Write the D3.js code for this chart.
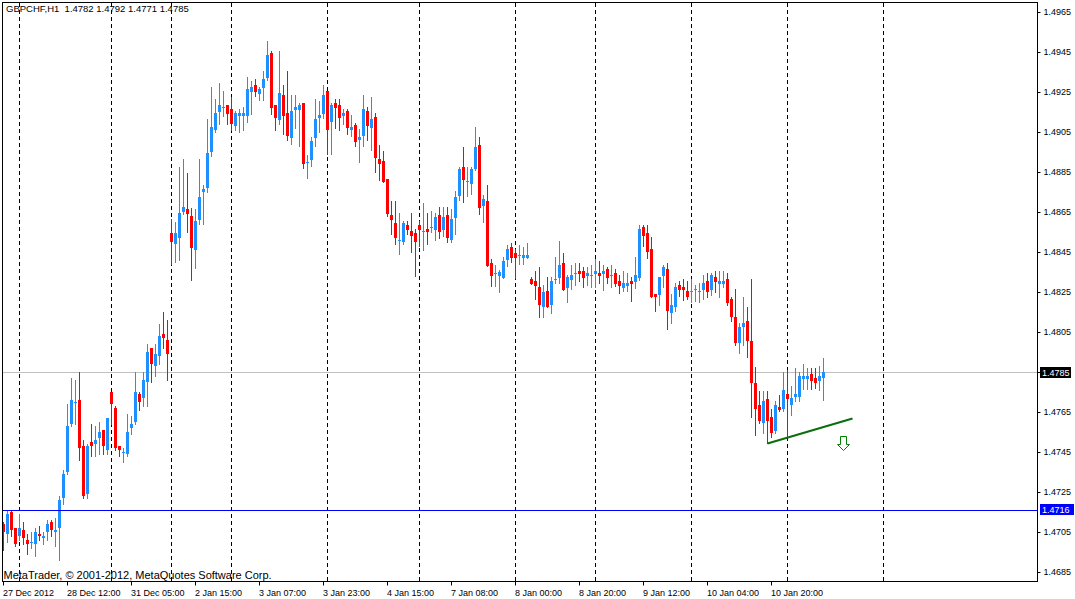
<!DOCTYPE html>
<html>
<head>
<meta charset="utf-8">
<script src="https://cdn.jsdelivr.net/npm/d3@7"></script>
<style>
  html, body { margin: 0; padding: 0; background: #fff; overflow: hidden; }
  svg { display: block; }
</style>
</head>
<body>
<svg id="chart" width="1075" height="599" viewBox="0 0 1075 599"></svg>
<script>
'use strict';

/* global d3 */

var header = 'GBPCHF,H1  1.4782 1.4792 1.4771 1.4785';
var copyright = 'MetaTrader, \u00a9 2001-2012, MetaQuotes Software Corp.';

// H1 bars, left to right
var open = [
  1.4709, 1.4704, 1.4715, 1.4707, 1.4703, 1.4706, 1.4701, 1.4700, 1.4699, 1.4704,
  1.4702, 1.4705, 1.4710, 1.4705, 1.4707, 1.4722, 1.4735, 1.4759, 1.4770, 1.4771,
  1.4748, 1.4724, 1.4750, 1.4749, 1.4752, 1.4756, 1.4746, 1.4775, 1.4767, 1.4748,
  1.4745, 1.4744, 1.4757, 1.4760, 1.4774, 1.4772, 1.4780, 1.4797, 1.4788, 1.4793,
  1.4804, 1.4801, 1.48545, 1.4849, 1.4852, 1.4865, 1.48665, 1.4863, 1.4846, 1.4861,
  1.4875, 1.4877, 1.4895, 1.4906, 1.4915, 1.49175, 1.49185, 1.49165, 1.4908, 1.4913,
  1.4913, 1.4913, 1.4925, 1.49285, 1.4924, 1.4927, 1.4932, 1.49445, 1.49185, 1.4911,
  1.49235, 1.49145, 1.4902, 1.4916, 1.4916, 1.49195, 1.4890, 1.4891, 1.4902, 1.4912,
  1.4914, 1.49255, 1.4910, 1.49195, 1.49185, 1.4913, 1.49155, 1.4906, 1.49085, 1.4901,
  1.4903, 1.49155, 1.4907, 1.49125, 1.48915, 1.48905, 1.48815, 1.48635, 1.48595, 1.4851,
  1.4850, 1.48585, 1.48555, 1.48545, 1.48585, 1.48555, 1.48565, 1.48575, 1.4856, 1.48635,
  1.4856, 1.48635, 1.4851, 1.4862, 1.4873, 1.48875, 1.48805, 1.4879, 1.48865, 1.48985,
  1.4868, 1.48705, 1.48395, 1.48345, 1.4833, 1.4832, 1.4841, 1.48475, 1.48445, 1.48435,
  1.4842, 1.4842, 1.48315, 1.48305, 1.48275, 1.48175, 1.48255, 1.48185, 1.48315, 1.4832,
  1.48395, 1.4827, 1.4831, 1.48345, 1.48355, 1.48355, 1.4833, 1.48335, 1.4834, 1.48345,
  1.4834, 1.48365, 1.48335, 1.48345, 1.48305, 1.4827, 1.4828, 1.48305, 1.4830, 1.4832,
  1.48575, 1.48545, 1.48465, 1.4824, 1.48235, 1.4833, 1.48365, 1.48145, 1.48175, 1.48285,
  1.48275, 1.48255, 1.48255, 1.48265, 1.48255, 1.4826, 1.48305, 1.4826, 1.48325, 1.4829,
  1.4829, 1.48315, 1.48215, 1.48125, 1.47995, 1.48075, 1.48105, 1.48005, 1.47795, 1.47685,
  1.47595, 1.47715, 1.47625, 1.47555, 1.47675, 1.47665, 1.4774, 1.47685, 1.47725, 1.47725,
  1.47815, 1.47815, 1.4784, 1.4782, 1.47805, 1.4782
];
var high = [
  1.4710, 1.4716, 1.4716, 1.4707, 1.4714, 1.4710, 1.4704, 1.4705, 1.4707, 1.4708,
  1.4705, 1.4711, 1.4711, 1.4712, 1.4723, 1.4736, 1.4769, 1.4782, 1.4781, 1.4785,
  1.4751, 1.4749, 1.4759, 1.4758, 1.4760, 1.4756, 1.4762, 1.4775, 1.4768, 1.4748,
  1.4747, 1.4764, 1.4763, 1.4785, 1.4775, 1.4785, 1.4799, 1.4797, 1.4799, 1.4809,
  1.4815, 1.4811, 1.48615, 1.4860, 1.48875, 1.48915, 1.48845, 1.4867, 1.48665, 1.48915,
  1.48785, 1.49115, 1.49275, 1.49215, 1.49295, 1.49255, 1.49185, 1.49225, 1.49155, 1.49165,
  1.49175, 1.49325, 1.49305, 1.49315, 1.49275, 1.49355, 1.49505, 1.49455, 1.49185, 1.49455,
  1.49285, 1.49355, 1.49235, 1.49235, 1.49195, 1.49195, 1.48935, 1.49025, 1.49215, 1.49205,
  1.49285, 1.49255, 1.49195, 1.49215, 1.49215, 1.49165, 1.49165, 1.49135, 1.49095, 1.49065,
  1.49235, 1.49175, 1.49225, 1.49145, 1.48985, 1.48955, 1.48815, 1.48705, 1.48705, 1.48645,
  1.48605, 1.48605, 1.48645, 1.48565, 1.48605, 1.48695, 1.48645, 1.48655, 1.48645, 1.48675,
  1.48675, 1.48675, 1.48665, 1.48755, 1.48875, 1.48975, 1.48875, 1.48875, 1.49075, 1.49025,
  1.48735, 1.48785, 1.48415, 1.48385, 1.4836, 1.48425, 1.48485, 1.48495, 1.48465, 1.48485,
  1.48475, 1.48495, 1.48325, 1.48355, 1.48375, 1.48285, 1.48325, 1.48325, 1.48425, 1.48505,
  1.48445, 1.48335, 1.48385, 1.48395, 1.48395, 1.48375, 1.48375, 1.48385, 1.48415, 1.48405,
  1.48385, 1.48375, 1.48385, 1.48365, 1.48335, 1.48355, 1.48345, 1.48325, 1.48425, 1.48585,
  1.48585, 1.48585, 1.48525, 1.4824, 1.48325, 1.48385, 1.48395, 1.4824, 1.48295, 1.48305,
  1.48315, 1.48305, 1.48315, 1.48285, 1.48295, 1.48335, 1.48345, 1.48345, 1.48355, 1.48355,
  1.48355, 1.48345, 1.48225, 1.48265, 1.48095, 1.48225, 1.48175, 1.48315, 1.47875, 1.47755,
  1.47755, 1.47755, 1.47665, 1.47705, 1.47735, 1.4785, 1.4786, 1.4778, 1.4787, 1.4785,
  1.4789, 1.4787, 1.4787, 1.4787, 1.4788, 1.4792
];
var low = [
  1.4696, 1.4700, 1.4703, 1.4698, 1.4701, 1.4699, 1.4694, 1.4697, 1.4693, 1.4701,
  1.4699, 1.4701, 1.4703, 1.4698, 1.4691, 1.4719, 1.4734, 1.4758, 1.4759, 1.4741,
  1.4722, 1.4722, 1.4743, 1.4743, 1.4744, 1.4744, 1.4744, 1.4759, 1.4746, 1.4743,
  1.4740, 1.4743, 1.4754, 1.4759, 1.4766, 1.4768, 1.4768, 1.4780, 1.4783, 1.4789,
  1.4797, 1.4781, 1.4839, 1.4840, 1.4841, 1.4864, 1.4855, 1.4831, 1.4837, 1.4859,
  1.4859, 1.4875, 1.4893, 1.4905, 1.4909, 1.4913, 1.4909, 1.4906, 1.4906, 1.4905,
  1.4906, 1.4910, 1.4914, 1.4923, 1.4921, 1.4921, 1.4931, 1.4914, 1.4906, 1.4909,
  1.4904, 1.4901, 1.4899, 1.4907, 1.4898, 1.4887, 1.4882, 1.4888, 1.4898, 1.4905,
  1.4912, 1.4894, 1.4894, 1.4907, 1.4906, 1.4909, 1.4904, 1.4903, 1.4898, 1.4890,
  1.4898, 1.4901, 1.4896, 1.4885, 1.4881, 1.4880, 1.4863, 1.4854, 1.4849, 1.4844,
  1.4849, 1.4854, 1.4845, 1.4833, 1.4848, 1.4846, 1.4849, 1.4855, 1.4851, 1.4852,
  1.4853, 1.4850, 1.4850, 1.4854, 1.4871, 1.4870, 1.4873, 1.4874, 1.4886, 1.4864,
  1.4860, 1.4838, 1.4828, 1.4828, 1.4825, 1.4832, 1.4838, 1.4840, 1.4832, 1.4839,
  1.4839, 1.4842, 1.4829, 1.48215, 1.48125, 1.48125, 1.48175, 1.48145, 1.48295, 1.48295,
  1.4826, 1.4820, 1.48265, 1.48285, 1.48305, 1.48275, 1.48285, 1.48275, 1.48275, 1.48295,
  1.4826, 1.48295, 1.48275, 1.4828, 1.48245, 1.48255, 1.48255, 1.48205, 1.4827, 1.4831,
  1.4848, 1.4842, 1.48225, 1.48155, 1.48185, 1.48275, 1.48065, 1.48095, 1.48155, 1.4823,
  1.4821, 1.48215, 1.4820, 1.48205, 1.4820, 1.48215, 1.48225, 1.48235, 1.4825, 1.48225,
  1.48275, 1.48185, 1.48105, 1.47985, 1.47945, 1.47985, 1.47925, 1.47625, 1.47535, 1.47595,
  1.47545, 1.47495, 1.47525, 1.47545, 1.47655, 1.47655, 1.4753, 1.47635, 1.47705, 1.47705,
  1.47765, 1.47765, 1.47765, 1.4777, 1.4776, 1.4771
];
var close = [
  1.4705, 1.4714, 1.4706, 1.4699, 1.4707, 1.4702, 1.4699, 1.4700, 1.4705, 1.4703,
  1.4703, 1.4709, 1.4706, 1.4706, 1.4721, 1.4734, 1.4758, 1.4771, 1.4770, 1.4747,
  1.4723, 1.4748, 1.4748, 1.4751, 1.4755, 1.4748, 1.4762, 1.4769, 1.4747, 1.4746,
  1.4745, 1.4755, 1.4759, 1.4775, 1.4770, 1.4781, 1.4795, 1.4789, 1.4794, 1.4803,
  1.4802, 1.4794, 1.4850, 1.48545, 1.48645, 1.48675, 1.4864, 1.4847, 1.48605, 1.48725,
  1.48765, 1.48945, 1.49075, 1.49145, 1.49185, 1.49175, 1.4914, 1.4909, 1.49145, 1.49145,
  1.49145, 1.49265, 1.49275, 1.4925, 1.49265, 1.49315, 1.49435, 1.4917, 1.4912, 1.49245,
  1.4913, 1.4903, 1.49155, 1.49175, 1.49185, 1.4889, 1.4890, 1.49005, 1.49115, 1.49135,
  1.49235, 1.4906, 1.49185, 1.4917, 1.4912, 1.49145, 1.4907, 1.49075, 1.4900, 1.49025,
  1.49165, 1.4908, 1.49115, 1.4892, 1.4889, 1.4880, 1.4864, 1.4861, 1.4852, 1.4851,
  1.48595, 1.4856, 1.4853, 1.4850, 1.4856, 1.48555, 1.4855, 1.48575, 1.48625, 1.4855,
  1.48625, 1.4852, 1.48615, 1.48725, 1.48865, 1.4881, 1.48805, 1.48865, 1.48975, 1.4867,
  1.48715, 1.4838, 1.4833, 1.48345, 1.4835, 1.48405, 1.48465, 1.4842, 1.4842, 1.48435,
  1.48435, 1.48435, 1.4829, 1.4828, 1.48185, 1.4825, 1.48175, 1.48305, 1.48315, 1.48385,
  1.4826, 1.48325, 1.48335, 1.48345, 1.4834, 1.4832, 1.48345, 1.48335, 1.48355, 1.4833,
  1.48355, 1.4832, 1.48335, 1.4829, 1.4828, 1.48295, 1.48295, 1.4829, 1.48335, 1.48565,
  1.4853, 1.4845, 1.48225, 1.48225, 1.48325, 1.48375, 1.48155, 1.48185, 1.48275, 1.4826,
  1.4826, 1.48225, 1.48255, 1.48265, 1.48255, 1.48295, 1.4825, 1.48335, 1.4830, 1.48305,
  1.48305, 1.48195, 1.48125, 1.47995, 1.48075, 1.48095, 1.48005, 1.47795, 1.47665, 1.47605,
  1.47705, 1.47605, 1.47545, 1.47685, 1.4766, 1.4776, 1.47715, 1.4772, 1.4774, 1.4783,
  1.4783, 1.4783, 1.47805, 1.47795, 1.4783, 1.4785
];

// first bar of each day (period separators)
var daySeparators = [4, 27, 42, 57, 81, 104, 128, 148, 172, 196, 220];

var timeTickBars = [0, 16, 32, 48, 64, 80, 96, 112, 128, 144, 160, 176, 192];
var timeLabels = ['27 Dec 2012', '28 Dec 12:00', '31 Dec 05:00', '2 Jan 15:00', '3 Jan 07:00',
  '3 Jan 23:00', '4 Jan 15:00', '7 Jan 08:00', '8 Jan 00:00', '8 Jan 20:00', '9 Jan 12:00',
  '10 Jan 04:00', '10 Jan 20:00'];

var priceTicks = [1.4965, 1.4945, 1.4925, 1.4905, 1.4885, 1.4865, 1.4845, 1.4825, 1.4805,
  1.4785, 1.4765, 1.4745, 1.4725, 1.4705, 1.4685];

var bidPrice = 1.4785;
var hlinePrice = 1.4716;
var trendPoints = [{ bar: 191, price: 1.47495 }, { bar: 212.25, price: 1.4762 }];
var sellArrow = { bar: 210, price: 1.4753 };

(function () {
  var svg = d3.select('#chart');
  var font = '"Liberation Sans", Arial, sans-serif';
  var up = '#1e90ff';
  var down = '#ff0000';

  var frame = { left: 2.5, top: 2.5, right: 1037.5, bottom: 581.5 };

  // 4px per bar, bar 0 at x=3
  var x = d3.scaleLinear().domain([0, 1]).range([3, 7]);
  // 2px per pip
  var y = d3.scaleLinear().domain([1.4685, 1.4965]).range([572.5, 12.5]);
  function py(p) { return Math.round(y(p) - 0.5); }

  svg.append('rect').attr('width', 1075).attr('height', 599).attr('fill', '#fff');

  // period separators
  svg.append('g').selectAll('line').data(daySeparators).enter().append('line')
    .attr('x1', function (d) { return x(d) + 0.5; })
    .attr('x2', function (d) { return x(d) + 0.5; })
    .attr('y1', 3).attr('y2', 581)
    .attr('stroke', '#000').attr('stroke-dasharray', '4,3');

  // bid line
  svg.append('line')
    .attr('x1', 3).attr('x2', frame.right)
    .attr('y1', y(bidPrice)).attr('y2', y(bidPrice))
    .attr('stroke', '#c0c0c0');

  var bars = open.map(function (o, i) {
    return { i: i, o: o, h: high[i], l: low[i], c: close[i] };
  });

  var candles = svg.append('g').selectAll('g').data(bars).enter().append('g')
    .attr('fill', function (d) { return d.c >= d.o ? up : down; });

  candles.append('rect')
    .attr('x', function (d) { return x(d.i); })
    .attr('width', 1)
    .attr('y', function (d) { return py(d.h); })
    .attr('height', function (d) { return Math.max(1, py(d.l) - py(d.h) + 1); });

  candles.append('rect')
    .attr('x', function (d) { return x(d.i) - 1; })
    .attr('width', 3)
    .attr('y', function (d) { return Math.min(py(d.o), py(d.c)); })
    .attr('height', function (d) { return Math.max(1, Math.abs(py(d.o) - py(d.c))); });

  // horizontal line object
  svg.append('line')
    .attr('x1', 3).attr('x2', frame.right)
    .attr('y1', y(hlinePrice)).attr('y2', y(hlinePrice))
    .attr('stroke', '#0000ff');

  // trend line
  svg.append('line')
    .attr('x1', x(trendPoints[0].bar) + 0.5).attr('y1', y(trendPoints[0].price))
    .attr('x2', x(trendPoints[1].bar) + 0.5).attr('y2', y(trendPoints[1].price))
    .attr('stroke', '#0a6e0a').attr('stroke-width', 2);

  // sell arrow
  var ax = x(sellArrow.bar) + 0.5;
  var ay = Math.round(y(sellArrow.price)) + 0.5;
  svg.append('path')
    .attr('d', 'M' + (ax - 3) + ',' + ay + 'H' + (ax + 3) + 'V' + (ay + 8) + 'H' + (ax + 6) +
      'L' + ax + ',' + (ay + 14) + 'L' + (ax - 6) + ',' + (ay + 8) + 'H' + (ax - 3) + 'Z')
    .attr('fill', '#fff').attr('stroke', '#008000');

  // chart frame
  svg.append('rect')
    .attr('x', frame.left).attr('y', frame.top)
    .attr('width', frame.right - frame.left).attr('height', frame.bottom - frame.top)
    .attr('fill', 'none').attr('stroke', '#000');

  // price scale
  var yAxis = d3.axisRight(y).tickValues(priceTicks).tickFormat(d3.format('.4f'))
    .tickSize(3).tickSizeOuter(0).tickPadding(3).offset(0);
  var yG = svg.append('g').attr('transform', 'translate(' + frame.right + ',0)').call(yAxis);
  yG.select('.domain').remove();
  yG.selectAll('text').attr('font-family', font).attr('font-size', 9).attr('fill', '#000');
  yG.selectAll('line').attr('stroke', '#000');

  // time scale
  var xAxis = d3.axisBottom(x).tickValues(timeTickBars)
    .tickFormat(function (d, i) { return timeLabels[i]; })
    .tickSize(4).tickSizeOuter(0).offset(0.5);
  var xG = svg.append('g').attr('transform', 'translate(0,' + frame.bottom + ')').call(xAxis);
  xG.select('.domain').remove();
  xG.selectAll('text').attr('font-family', font).attr('font-size', 9).attr('fill', '#000')
    .attr('text-anchor', 'start').attr('x', -0.5).attr('y', 14).attr('dy', null);
  xG.selectAll('line').attr('stroke', '#000');

  // price labels on the scale
  function priceBox(p, w, bg) {
    var cy = y(p);
    svg.append('rect').attr('x', 1040).attr('y', Math.round(cy) - 6)
      .attr('width', w).attr('height', 11).attr('fill', bg);
    svg.append('text').attr('x', 1042).attr('y', Math.round(cy) + 3)
      .attr('font-family', font).attr('font-size', 9).attr('fill', '#fff')
      .text(d3.format('.4f')(p));
  }
  priceBox(bidPrice, 31, '#000');
  priceBox(hlinePrice, 34, '#0000ff');

  svg.append('text').attr('x', 6).attr('y', 12)
    .attr('font-family', font).attr('font-size', 9.5).attr('fill', '#000')
    .attr('xml:space', 'preserve').style('white-space', 'pre')
    .text(header);

  svg.append('text').attr('x', 3.5).attr('y', 578.5)
    .attr('font-family', font).attr('font-size', 11).attr('fill', '#000')
    .text(copyright);
})();
</script>
</body>
</html>
